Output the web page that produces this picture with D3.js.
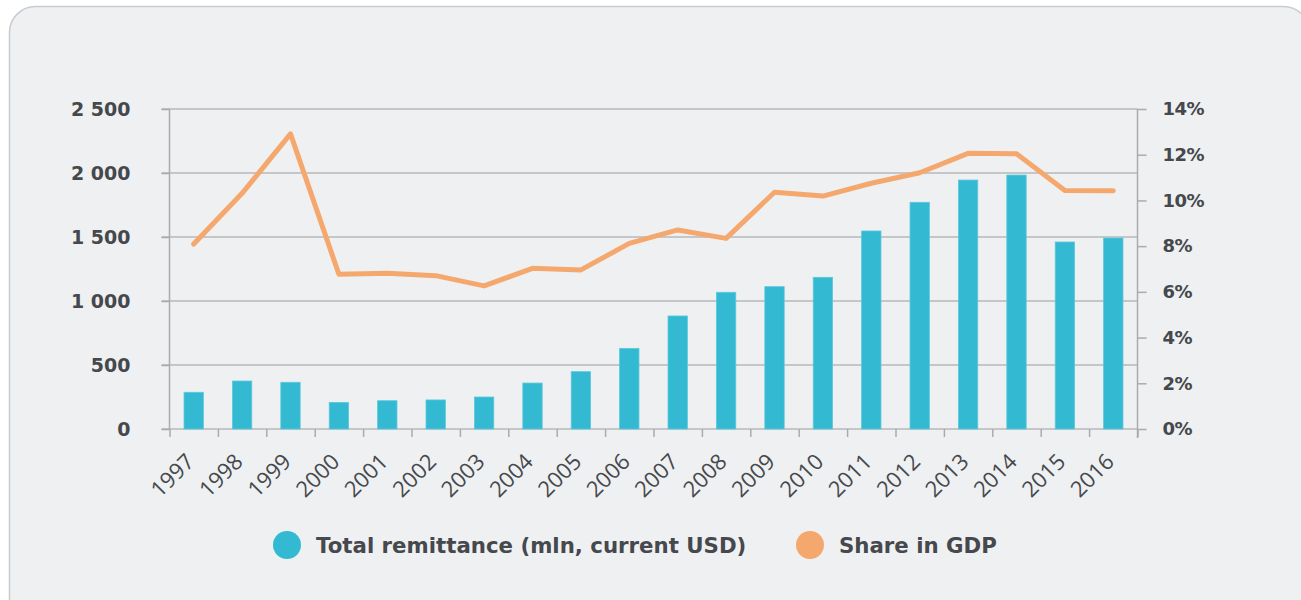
<!DOCTYPE html>
<html>
<head>
<meta charset="utf-8">
<script src="https://cdn.jsdelivr.net/npm/d3@7"></script>
<style>
  body { margin: 0; background: #ffffff; }
  svg { display: block; }
</style>
</head>
<body>
<svg id="chart"></svg>
<script>
const years = ["1997","1998","1999","2000","2001","2002","2003","2004","2005","2006",
  "2007","2008","2009","2010","2011","2012","2013","2014","2015","2016"];
const remittance = [287, 375, 365, 208, 221, 227, 250, 359, 448, 630,
  883, 1068, 1112, 1185, 1547, 1771, 1945, 1984, 1461, 1492];
const shareGdp = [8.09, 10.31, 12.91, 6.77, 6.81, 6.71, 6.26, 7.03, 6.96, 8.12,
  8.71, 8.34, 10.36, 10.19, 10.75, 11.21, 12.06, 12.04, 10.43, 10.42];
const leftTicks = [0, 500, 1000, 1500, 2000, 2500];
const rightTicks = [0, 2, 4, 6, 8, 10, 12, 14];
const legendItems = ["Total remittance (mln, current USD)", "Share in GDP"];

const colors = { bar: "#33b9d2", line: "#f5a86e", text: "#45484c", grid: "#b7b8ba" };
const boldFont = "'DejaVu Sans', sans-serif";

const dimensions = {
  width: 1301,
  height: 600,
  margin: { top: 109, bottom: 171, left: 169.5, right: 163.5 }
};

function getConfig() {
  const chart = d3.select("#chart")
    .attr("width", dimensions.width)
    .attr("height", dimensions.height);
  return {
    container: chart,
    inner: {
      width: dimensions.width - dimensions.margin.left - dimensions.margin.right,
      height: dimensions.height - dimensions.margin.top - dimensions.margin.bottom
    }
  };
}

function getScales(config) {
  const { width, height } = config.inner;
  const x = d3.scaleBand()
    .domain(years)
    .range([0, width])
    .paddingInner(0.6)
    .paddingOuter(0.3);
  const xTicks = d3.scaleLinear().domain([0, years.length]).range([0, width]);
  const y = d3.scaleLinear().domain([0, 2500]).range([height, 0]);
  const yRight = d3.scaleLinear().domain([0, 14]).range([height, 0]);
  return { x, xTicks, y, yRight };
}

function drawPanel(config) {
  config.container.append("rect")
    .attr("x", 9.5)
    .attr("y", 6.5)
    .attr("width", 1300)
    .attr("height", 640)
    .attr("rx", 26)
    .attr("fill", "#eff0f2")
    .attr("stroke", "#c9cbce")
    .attr("stroke-width", 1.5);
}

function drawAxes(config, scales) {
  const { container, inner } = config;
  const { xTicks, y, yRight } = scales;
  const m = dimensions.margin;
  const g = container.append("g")
    .attr("transform", `translate(${m.left},${m.top})`);

  // gridlines
  g.append("g")
    .selectAll("line")
    .data(leftTicks)
    .join("line")
    .attr("x1", -8)
    .attr("x2", inner.width)
    .attr("y1", d => y(d))
    .attr("y2", d => y(d))
    .attr("stroke", colors.grid)
    .attr("stroke-width", 1.5);

  const fmt = d3.formatLocale({ decimal: ".", thousands: " ", grouping: [3], currency: ["", ""] }).format(",");

  const axisLeft = d3.axisLeft(y)
    .tickValues(leftTicks)
    .tickSize(8)
    .tickPadding(31)
    .tickFormat(fmt);
  const gl = g.append("g").call(axisLeft);

  const axisRight = d3.axisRight(yRight)
    .tickValues(rightTicks)
    .tickSize(9)
    .tickPadding(16)
    .tickFormat(d => d + "%");
  const gr = g.append("g").attr("transform", `translate(${inner.width},0)`).call(axisRight);

  const axisBottom = d3.axisBottom(xTicks)
    .tickValues(d3.range(years.length + 1))
    .tickSize(8)
    .tickFormat("");
  const gb = g.append("g").attr("transform", `translate(0,${inner.height})`).call(axisBottom);

  [gl, gr, gb].forEach(a => {
    a.select(".domain").attr("stroke", "#a9abae").attr("stroke-width", 1.5);
    a.selectAll(".tick line").attr("stroke", "#a9abae").attr("stroke-width", 1.5);
    a.selectAll("text")
      .attr("fill", colors.text)
      .style("font-family", boldFont)
      .style("font-weight", 700)
      .style("font-size", "19px");
  });
  gr.selectAll("text").style("font-size", "18px").style("letter-spacing", "-0.5px");
  gb.select(".domain").remove();
  gl.select(".domain").attr("d", `M0,${inner.height}V0`);
  gr.select(".domain").attr("d", `M0,${inner.height + 9}V0`);

  // year labels
  g.append("g")
    .selectAll("text")
    .data(years)
    .join("text")
    .attr("transform", d => `translate(${scales.x(d) + scales.x.bandwidth() / 2 + 2},${inner.height + 34}) rotate(-45)`)
    .attr("text-anchor", "end")
    .attr("fill", colors.text)
    .style("font-family", "'Open Sans', sans-serif")
    .style("font-size", "22px")
    .text(d => d);
}

function drawBars(config, scales) {
  const { x, y } = scales;
  const m = dimensions.margin;
  config.container.append("g")
    .attr("transform", `translate(${m.left},${m.top})`)
    .selectAll("rect")
    .data(years.map((yr, i) => ({ yr, v: remittance[i] })))
    .join("rect")
    .attr("x", d => x(d.yr))
    .attr("y", d => y(d.v))
    .attr("width", x.bandwidth())
    .attr("height", d => y(0) - y(d.v))
    .attr("fill", colors.bar)
    .attr("stroke", "#5cc9dd")
    .attr("stroke-width", 0.8);
}

function drawLine(config, scales) {
  const { x, yRight } = scales;
  const m = dimensions.margin;
  config.container.append("path")
    .datum(years.map((yr, i) => ({ yr, v: shareGdp[i] })))
    .attr("transform", `translate(${m.left},${m.top})`)
    .attr("d", d3.line()
      .x(d => x(d.yr) + x.bandwidth() / 2)
      .y(d => yRight(d.v)))
    .attr("fill", "none")
    .attr("stroke", colors.line)
    .attr("stroke-width", 5)
    .attr("stroke-linecap", "round")
    .attr("stroke-linejoin", "round");
}

function drawLegend(config) {
  const positions = [287, 810];
  const swatch = [colors.bar, colors.line];
  const lg = config.container.append("g");
  const items = lg.selectAll("g")
    .data(legendItems)
    .join("g")
    .attr("transform", (d, i) => `translate(${positions[i]},545)`);
  items.append("circle")
    .attr("r", 14)
    .attr("fill", (d, i) => swatch[i]);
  items.append("text")
    .attr("x", 29)
    .attr("dy", "0.36em")
    .attr("fill", colors.text)
    .style("font-family", boldFont)
    .style("font-weight", 700)
    .style("font-size", "21.3px")
    .text(d => d);
}

function render() {
  const config = getConfig();
  const scales = getScales(config);
  drawPanel(config);
  drawAxes(config, scales);
  drawBars(config, scales);
  drawLine(config, scales);
  drawLegend(config);
}

render();
</script>
</body>
</html>
